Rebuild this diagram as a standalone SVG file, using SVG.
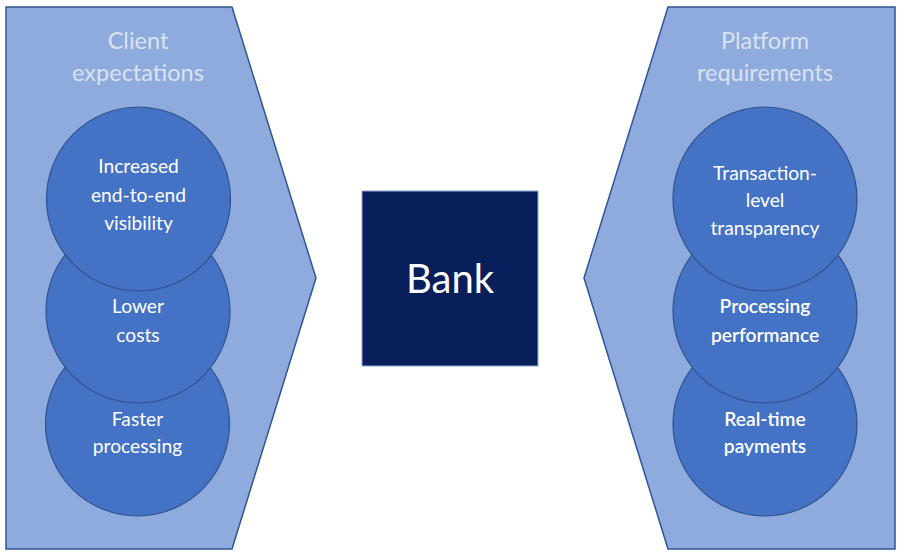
<svg xmlns="http://www.w3.org/2000/svg" width="904" height="558" viewBox="0 0 904 558">
<style>
.panel{fill:#8FAADC;stroke:#2F5597;stroke-width:1.5}
.circ{fill:#4472C4;stroke:#2F528F;stroke-width:1.2}
.hdr{font-family:Lato,"Open Sans",sans-serif;font-size:23.5px;fill:#DAE3F3;text-anchor:middle}
.lbl{font-family:Lato,"Open Sans",sans-serif;font-size:19.2px;fill:#FFFFFF;text-anchor:middle}
.b{font-weight:600}
</style>
<rect width="904" height="558" fill="#FFFFFF"/>
<g id="left-panel">
<polygon class="panel" points="6,7 232,7 316,278 232,549 6,549"/>
<text class="hdr" x="138" y="49">Client</text>
<text class="hdr" x="138" y="81">expectations</text>
</g>
<g id="right-panel">
<polygon class="panel" points="668,7 895,7 895,549 668,549 584,278"/>
<text class="hdr" x="765" y="49">Platform</text>
<text class="hdr" x="765" y="81">requirements</text>
</g>
<g id="faster-processing">
<circle class="circ" cx="137.5" cy="424" r="92"/>
<text class="lbl" x="137.5" y="426">Faster</text>
<text class="lbl" x="137.5" y="453">processing</text>
</g>
<g id="lower-costs">
<circle class="circ" cx="138" cy="311" r="92"/>
<text class="lbl" x="138" y="313">Lower</text>
<text class="lbl" x="138" y="342">costs</text>
</g>
<g id="visibility">
<circle class="circ" cx="138.5" cy="199" r="92"/>
<text class="lbl" x="138.5" y="173">Increased</text>
<text class="lbl" x="138.5" y="202">end-to-end</text>
<text class="lbl" x="138.5" y="230">visibility</text>
</g>
<g id="real-time-payments">
<circle class="circ" cx="765" cy="424" r="92"/>
<text class="lbl b" x="765" y="426">Real-time</text>
<text class="lbl b" x="765" y="453">payments</text>
</g>
<g id="processing-performance">
<circle class="circ" cx="765" cy="311" r="92"/>
<text class="lbl b" x="765" y="313">Processing</text>
<text class="lbl b" x="765" y="342">performance</text>
</g>
<g id="transparency">
<circle class="circ" cx="765" cy="199" r="92"/>
<text class="lbl" x="765" y="180">Transaction-</text>
<text class="lbl" x="765" y="207">level</text>
<text class="lbl" x="765" y="235">transparency</text>
</g>
<g id="bank">
<rect x="362" y="191" width="176" height="175" fill="#081F5C" stroke="#8FAADC" stroke-width="1"/>
<text x="450" y="293" font-family="Lato,'Open Sans',sans-serif" font-size="40" fill="#FFFFFF" text-anchor="middle">Bank</text>
</g>
<g id="connectors"></g>
</svg>
